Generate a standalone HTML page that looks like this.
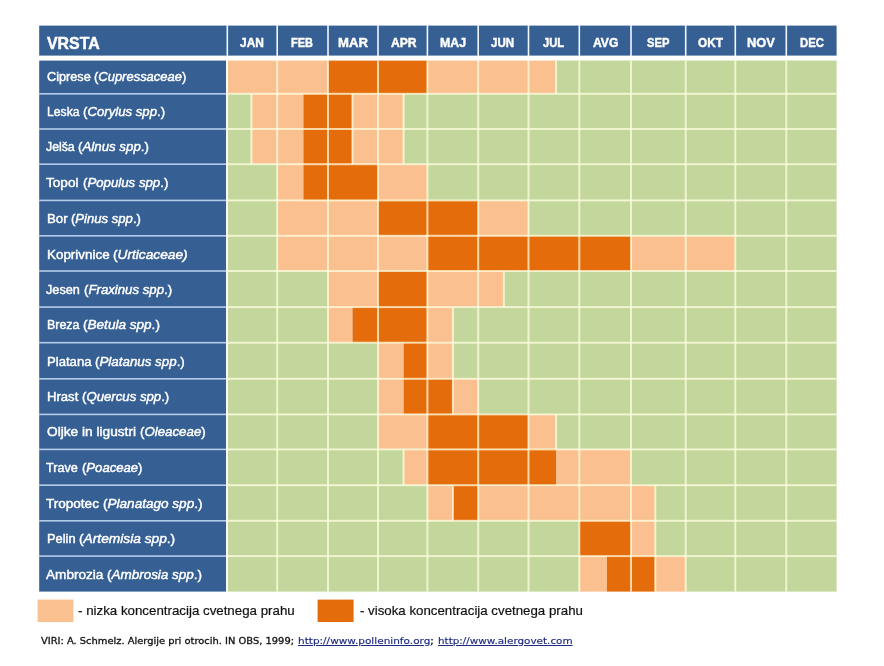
<!DOCTYPE html>
<html lang="sl"><head><meta charset="utf-8"><title>Koledar cvetenja</title>
<style>
html,body{margin:0;padding:0;background:#fff;}
body{width:884px;height:666px;position:relative;overflow:hidden;font-family:"Liberation Sans",sans-serif;}
svg{position:absolute;left:0;top:0;filter:blur(0.4px);}
.t{position:absolute;white-space:nowrap;line-height:1;transform-origin:0 0;}
.w{color:#fff;-webkit-text-stroke:0.45px #fff;}
.b{font-weight:bold;}
.k{color:#111;-webkit-text-stroke:0.2px #111;}
.s{-webkit-text-stroke:0.3px #111;font-family:"DejaVu Sans","Liberation Sans",sans-serif;}
.s u{color:#1c2a80;-webkit-text-stroke:0.15px #1c2a80;}
i{font-style:italic;}
</style></head><body>
<svg width="884" height="666" viewBox="0 0 884 666">
<rect x="39.20" y="25.60" width="797.40" height="30.00" fill="#365f94"/>
<rect x="226.50" y="25.10" width="1.60" height="31.00" fill="#f2f7ff"/>
<rect x="276.40" y="25.10" width="1.60" height="31.00" fill="#f2f7ff"/>
<rect x="327.20" y="25.10" width="1.60" height="31.00" fill="#f2f7ff"/>
<rect x="377.20" y="25.10" width="1.60" height="31.00" fill="#f2f7ff"/>
<rect x="426.60" y="25.10" width="1.60" height="31.00" fill="#f2f7ff"/>
<rect x="477.40" y="25.10" width="1.60" height="31.00" fill="#f2f7ff"/>
<rect x="527.70" y="25.10" width="1.60" height="31.00" fill="#f2f7ff"/>
<rect x="578.50" y="25.10" width="1.60" height="31.00" fill="#f2f7ff"/>
<rect x="630.20" y="25.10" width="1.60" height="31.00" fill="#f2f7ff"/>
<rect x="684.90" y="25.10" width="1.60" height="31.00" fill="#f2f7ff"/>
<rect x="734.50" y="25.10" width="1.60" height="31.00" fill="#f2f7ff"/>
<rect x="785.50" y="25.10" width="1.60" height="31.00" fill="#f2f7ff"/>
<rect x="39.20" y="60.60" width="187.00" height="531.00" fill="#365f94"/>
<rect x="227.90" y="60.60" width="100.10" height="33.20" fill="#fac08f"/>
<rect x="328.00" y="60.60" width="99.40" height="33.20" fill="#e46c0a"/>
<rect x="427.40" y="60.60" width="128.60" height="33.20" fill="#fac08f"/>
<rect x="556.00" y="60.60" width="280.60" height="33.20" fill="#c3d69b"/>
<rect x="227.90" y="93.80" width="23.50" height="35.20" fill="#c3d69b"/>
<rect x="251.40" y="93.80" width="52.00" height="35.20" fill="#fac08f"/>
<rect x="303.40" y="93.80" width="49.10" height="35.20" fill="#e46c0a"/>
<rect x="352.50" y="93.80" width="51.10" height="35.20" fill="#fac08f"/>
<rect x="403.60" y="93.80" width="433.00" height="35.20" fill="#c3d69b"/>
<rect x="227.90" y="129.00" width="23.50" height="35.20" fill="#c3d69b"/>
<rect x="251.40" y="129.00" width="52.00" height="35.20" fill="#fac08f"/>
<rect x="303.40" y="129.00" width="49.10" height="35.20" fill="#e46c0a"/>
<rect x="352.50" y="129.00" width="51.10" height="35.20" fill="#fac08f"/>
<rect x="403.60" y="129.00" width="433.00" height="35.20" fill="#c3d69b"/>
<rect x="227.90" y="164.20" width="49.30" height="36.20" fill="#c3d69b"/>
<rect x="277.20" y="164.20" width="26.20" height="36.20" fill="#fac08f"/>
<rect x="303.40" y="164.20" width="74.60" height="36.20" fill="#e46c0a"/>
<rect x="378.00" y="164.20" width="49.40" height="36.20" fill="#fac08f"/>
<rect x="427.40" y="164.20" width="409.20" height="36.20" fill="#c3d69b"/>
<rect x="227.90" y="200.40" width="49.30" height="35.40" fill="#c3d69b"/>
<rect x="277.20" y="200.40" width="100.80" height="35.40" fill="#fac08f"/>
<rect x="378.00" y="200.40" width="100.20" height="35.40" fill="#e46c0a"/>
<rect x="478.20" y="200.40" width="50.30" height="35.40" fill="#fac08f"/>
<rect x="528.50" y="200.40" width="308.10" height="35.40" fill="#c3d69b"/>
<rect x="227.90" y="235.80" width="49.30" height="35.20" fill="#c3d69b"/>
<rect x="277.20" y="235.80" width="150.20" height="35.20" fill="#fac08f"/>
<rect x="427.40" y="235.80" width="203.60" height="35.20" fill="#e46c0a"/>
<rect x="631.00" y="235.80" width="104.30" height="35.20" fill="#fac08f"/>
<rect x="735.30" y="235.80" width="101.30" height="35.20" fill="#c3d69b"/>
<rect x="227.90" y="271.00" width="100.10" height="36.10" fill="#c3d69b"/>
<rect x="328.00" y="271.00" width="50.00" height="36.10" fill="#fac08f"/>
<rect x="378.00" y="271.00" width="49.40" height="36.10" fill="#e46c0a"/>
<rect x="427.40" y="271.00" width="76.50" height="36.10" fill="#fac08f"/>
<rect x="503.90" y="271.00" width="332.70" height="36.10" fill="#c3d69b"/>
<rect x="227.90" y="307.10" width="100.10" height="35.60" fill="#c3d69b"/>
<rect x="328.00" y="307.10" width="24.50" height="35.60" fill="#fac08f"/>
<rect x="352.50" y="307.10" width="74.90" height="35.60" fill="#e46c0a"/>
<rect x="427.40" y="307.10" width="25.50" height="35.60" fill="#fac08f"/>
<rect x="452.90" y="307.10" width="383.70" height="35.60" fill="#c3d69b"/>
<rect x="227.90" y="342.70" width="150.10" height="36.10" fill="#c3d69b"/>
<rect x="378.00" y="342.70" width="25.60" height="36.10" fill="#fac08f"/>
<rect x="403.60" y="342.70" width="23.80" height="36.10" fill="#e46c0a"/>
<rect x="427.40" y="342.70" width="25.50" height="36.10" fill="#fac08f"/>
<rect x="452.90" y="342.70" width="383.70" height="36.10" fill="#c3d69b"/>
<rect x="227.90" y="378.80" width="150.10" height="35.60" fill="#c3d69b"/>
<rect x="378.00" y="378.80" width="25.60" height="35.60" fill="#fac08f"/>
<rect x="403.60" y="378.80" width="49.30" height="35.60" fill="#e46c0a"/>
<rect x="452.90" y="378.80" width="25.30" height="35.60" fill="#fac08f"/>
<rect x="478.20" y="378.80" width="358.40" height="35.60" fill="#c3d69b"/>
<rect x="227.90" y="414.40" width="150.10" height="35.00" fill="#c3d69b"/>
<rect x="378.00" y="414.40" width="49.40" height="35.00" fill="#fac08f"/>
<rect x="427.40" y="414.40" width="101.10" height="35.00" fill="#e46c0a"/>
<rect x="528.50" y="414.40" width="27.50" height="35.00" fill="#fac08f"/>
<rect x="556.00" y="414.40" width="280.60" height="35.00" fill="#c3d69b"/>
<rect x="227.90" y="449.40" width="175.70" height="35.80" fill="#c3d69b"/>
<rect x="403.60" y="449.40" width="23.80" height="35.80" fill="#fac08f"/>
<rect x="427.40" y="449.40" width="128.60" height="35.80" fill="#e46c0a"/>
<rect x="556.00" y="449.40" width="75.00" height="35.80" fill="#fac08f"/>
<rect x="631.00" y="449.40" width="205.60" height="35.80" fill="#c3d69b"/>
<rect x="227.90" y="485.20" width="199.50" height="35.60" fill="#c3d69b"/>
<rect x="427.40" y="485.20" width="25.50" height="35.60" fill="#fac08f"/>
<rect x="452.90" y="485.20" width="25.30" height="35.60" fill="#e46c0a"/>
<rect x="478.20" y="485.20" width="177.10" height="35.60" fill="#fac08f"/>
<rect x="655.30" y="485.20" width="181.30" height="35.60" fill="#c3d69b"/>
<rect x="227.90" y="520.80" width="351.40" height="35.30" fill="#c3d69b"/>
<rect x="579.30" y="520.80" width="51.70" height="35.30" fill="#e46c0a"/>
<rect x="631.00" y="520.80" width="24.30" height="35.30" fill="#fac08f"/>
<rect x="655.30" y="520.80" width="181.30" height="35.30" fill="#c3d69b"/>
<rect x="227.90" y="556.10" width="351.40" height="35.50" fill="#c3d69b"/>
<rect x="579.30" y="556.10" width="27.70" height="35.50" fill="#fac08f"/>
<rect x="607.00" y="556.10" width="48.30" height="35.50" fill="#e46c0a"/>
<rect x="655.30" y="556.10" width="30.40" height="35.50" fill="#fac08f"/>
<rect x="685.70" y="556.10" width="150.90" height="35.50" fill="#c3d69b"/>
<rect x="276.20" y="60.60" width="2.00" height="531.00" fill="rgba(255,255,226,0.72)"/>
<rect x="327.00" y="60.60" width="2.00" height="531.00" fill="rgba(255,255,226,0.72)"/>
<rect x="377.00" y="60.60" width="2.00" height="531.00" fill="rgba(255,255,226,0.72)"/>
<rect x="426.40" y="60.60" width="2.00" height="531.00" fill="rgba(255,255,226,0.72)"/>
<rect x="477.20" y="60.60" width="2.00" height="531.00" fill="rgba(255,255,226,0.72)"/>
<rect x="527.50" y="60.60" width="2.00" height="531.00" fill="rgba(255,255,226,0.72)"/>
<rect x="578.30" y="60.60" width="2.00" height="531.00" fill="rgba(255,255,226,0.72)"/>
<rect x="630.00" y="60.60" width="2.00" height="531.00" fill="rgba(255,255,226,0.72)"/>
<rect x="684.70" y="60.60" width="2.00" height="531.00" fill="rgba(255,255,226,0.72)"/>
<rect x="734.30" y="60.60" width="2.00" height="531.00" fill="rgba(255,255,226,0.72)"/>
<rect x="785.30" y="60.60" width="2.00" height="531.00" fill="rgba(255,255,226,0.72)"/>
<rect x="555.00" y="60.60" width="2.00" height="33.20" fill="rgba(255,255,226,0.72)"/>
<rect x="250.40" y="93.80" width="2.00" height="35.20" fill="rgba(255,255,226,0.72)"/>
<rect x="351.50" y="93.80" width="2.00" height="35.20" fill="rgba(255,255,226,0.72)"/>
<rect x="402.60" y="93.80" width="2.00" height="35.20" fill="rgba(255,255,226,0.72)"/>
<rect x="250.40" y="129.00" width="2.00" height="35.20" fill="rgba(255,255,226,0.72)"/>
<rect x="351.50" y="129.00" width="2.00" height="35.20" fill="rgba(255,255,226,0.72)"/>
<rect x="402.60" y="129.00" width="2.00" height="35.20" fill="rgba(255,255,226,0.72)"/>
<rect x="502.90" y="271.00" width="2.00" height="36.10" fill="rgba(255,255,226,0.72)"/>
<rect x="451.90" y="307.10" width="2.00" height="35.60" fill="rgba(255,255,226,0.72)"/>
<rect x="451.90" y="342.70" width="2.00" height="36.10" fill="rgba(255,255,226,0.72)"/>
<rect x="451.90" y="378.80" width="2.00" height="35.60" fill="rgba(255,255,226,0.72)"/>
<rect x="555.00" y="414.40" width="2.00" height="35.00" fill="rgba(255,255,226,0.72)"/>
<rect x="402.60" y="449.40" width="2.00" height="35.80" fill="rgba(255,255,226,0.72)"/>
<rect x="451.90" y="485.20" width="2.00" height="35.60" fill="rgba(255,255,226,0.72)"/>
<rect x="654.30" y="485.20" width="2.00" height="35.60" fill="rgba(255,255,226,0.72)"/>
<rect x="654.30" y="520.80" width="2.00" height="35.30" fill="rgba(255,255,226,0.72)"/>
<rect x="654.30" y="556.10" width="2.00" height="35.50" fill="rgba(255,255,226,0.72)"/>
<rect x="39.20" y="93.00" width="187.00" height="1.60" fill="rgba(212,234,255,0.8)"/>
<rect x="227.90" y="92.80" width="608.70" height="2.00" fill="rgba(255,255,226,0.72)"/>
<rect x="39.20" y="128.20" width="187.00" height="1.60" fill="rgba(212,234,255,0.8)"/>
<rect x="227.90" y="128.00" width="608.70" height="2.00" fill="rgba(255,255,226,0.72)"/>
<rect x="39.20" y="163.40" width="187.00" height="1.60" fill="rgba(212,234,255,0.8)"/>
<rect x="227.90" y="163.20" width="608.70" height="2.00" fill="rgba(255,255,226,0.72)"/>
<rect x="39.20" y="199.60" width="187.00" height="1.60" fill="rgba(212,234,255,0.8)"/>
<rect x="227.90" y="199.40" width="608.70" height="2.00" fill="rgba(255,255,226,0.72)"/>
<rect x="39.20" y="235.00" width="187.00" height="1.60" fill="rgba(212,234,255,0.8)"/>
<rect x="227.90" y="234.80" width="608.70" height="2.00" fill="rgba(255,255,226,0.72)"/>
<rect x="39.20" y="270.20" width="187.00" height="1.60" fill="rgba(212,234,255,0.8)"/>
<rect x="227.90" y="270.00" width="608.70" height="2.00" fill="rgba(255,255,226,0.72)"/>
<rect x="39.20" y="306.30" width="187.00" height="1.60" fill="rgba(212,234,255,0.8)"/>
<rect x="227.90" y="306.10" width="608.70" height="2.00" fill="rgba(255,255,226,0.72)"/>
<rect x="39.20" y="341.90" width="187.00" height="1.60" fill="rgba(212,234,255,0.8)"/>
<rect x="227.90" y="341.70" width="608.70" height="2.00" fill="rgba(255,255,226,0.72)"/>
<rect x="39.20" y="378.00" width="187.00" height="1.60" fill="rgba(212,234,255,0.8)"/>
<rect x="227.90" y="377.80" width="608.70" height="2.00" fill="rgba(255,255,226,0.72)"/>
<rect x="39.20" y="413.60" width="187.00" height="1.60" fill="rgba(212,234,255,0.8)"/>
<rect x="227.90" y="413.40" width="608.70" height="2.00" fill="rgba(255,255,226,0.72)"/>
<rect x="39.20" y="448.60" width="187.00" height="1.60" fill="rgba(212,234,255,0.8)"/>
<rect x="227.90" y="448.40" width="608.70" height="2.00" fill="rgba(255,255,226,0.72)"/>
<rect x="39.20" y="484.40" width="187.00" height="1.60" fill="rgba(212,234,255,0.8)"/>
<rect x="227.90" y="484.20" width="608.70" height="2.00" fill="rgba(255,255,226,0.72)"/>
<rect x="39.20" y="520.00" width="187.00" height="1.60" fill="rgba(212,234,255,0.8)"/>
<rect x="227.90" y="519.80" width="608.70" height="2.00" fill="rgba(255,255,226,0.72)"/>
<rect x="39.20" y="555.30" width="187.00" height="1.60" fill="rgba(212,234,255,0.8)"/>
<rect x="227.90" y="555.10" width="608.70" height="2.00" fill="rgba(255,255,226,0.72)"/>
<rect x="226.20" y="60.60" width="1.70" height="531.00" fill="#fff"/>
<rect x="37.60" y="599.60" width="35.80" height="22.40" fill="#fac08f"/>
<rect x="317.60" y="599.60" width="36.00" height="22.40" fill="#e46c0a"/>
</svg>
<div class="t b w" id="t-vrsta" style="left:46.9px;top:34.59px;font-size:16.2px;transform:scaleX(0.9838)">VRSTA</div>
<div class="t b w" id="t-m0" style="left:240.4px;top:35.64px;font-size:13.3px;transform:scaleX(0.8982)">JAN</div>
<div class="t b w" id="t-m1" style="left:291.4px;top:35.64px;font-size:13.3px;transform:scaleX(0.8230)">FEB</div>
<div class="t b w" id="t-m2" style="left:337.7px;top:35.64px;font-size:13.3px;transform:scaleX(0.9869)">MAR</div>
<div class="t b w" id="t-m3" style="left:391.0px;top:35.64px;font-size:13.3px;transform:scaleX(0.9117)">APR</div>
<div class="t b w" id="t-m4" style="left:440.4px;top:35.64px;font-size:13.3px;transform:scaleX(0.9295)">MAJ</div>
<div class="t b w" id="t-m5" style="left:491.4px;top:35.64px;font-size:13.3px;transform:scaleX(0.8719)">JUN</div>
<div class="t b w" id="t-m6" style="left:543.2px;top:35.64px;font-size:13.3px;transform:scaleX(0.8438)">JUL</div>
<div class="t b w" id="t-m7" style="left:592.5px;top:35.64px;font-size:13.3px;transform:scaleX(0.9127)">AVG</div>
<div class="t b w" id="t-m8" style="left:646.9px;top:35.64px;font-size:13.3px;transform:scaleX(0.8418)">SEP</div>
<div class="t b w" id="t-m9" style="left:697.7px;top:35.64px;font-size:13.3px;transform:scaleX(0.8868)">OKT</div>
<div class="t b w" id="t-m10" style="left:746.5px;top:35.64px;font-size:13.3px;transform:scaleX(0.9678)">NOV</div>
<div class="t b w" id="t-m11" style="left:799.7px;top:35.64px;font-size:13.3px;transform:scaleX(0.8512)">DEC</div>
<div class="t w" id="t-r0a" style="left:46.9px;top:70.24px;font-size:13.3px;transform:scaleX(0.9557)">Ciprese</div>
<div class="t w" id="t-r0b" style="left:94.3px;top:70.24px;font-size:13.3px;transform:scaleX(0.9754)">(<i>Cupressaceae</i>)</div>
<div class="t w" id="t-r1a" style="left:46.9px;top:104.94px;font-size:13.3px;transform:scaleX(0.9159)">Leska</div>
<div class="t w" id="t-r1b" style="left:83.0px;top:104.94px;font-size:13.3px;transform:scaleX(0.9918)">(<i>Corylus spp</i>.)</div>
<div class="t w" id="t-r2a" style="left:46.1px;top:140.44px;font-size:13.3px;transform:scaleX(0.9244)">Jelša</div>
<div class="t w" id="t-r2b" style="left:78.4px;top:140.44px;font-size:13.3px;transform:scaleX(0.9990)">(<i>Alnus spp</i>.)</div>
<div class="t w" id="t-r3a" style="left:46.4px;top:176.34px;font-size:13.3px;transform:scaleX(1.0221)">Topol</div>
<div class="t w" id="t-r3b" style="left:82.5px;top:176.34px;font-size:13.3px;transform:scaleX(0.9948)">(<i>Populus spp</i>.)</div>
<div class="t w" id="t-r4a" style="left:46.9px;top:211.64px;font-size:13.3px;transform:scaleX(0.9998)">Bor</div>
<div class="t w" id="t-r4b" style="left:71.2px;top:211.64px;font-size:13.3px;transform:scaleX(0.9849)">(<i>Pinus spp</i>.)</div>
<div class="t w" id="t-r5a" style="left:46.9px;top:247.84px;font-size:13.3px;transform:scaleX(1.0082)">Koprivnice</div>
<div class="t w" id="t-r5b" style="left:113.1px;top:247.84px;font-size:13.3px;transform:scaleX(1.0301)">(<i>Urticaceae)</i></div>
<div class="t w" id="t-r6a" style="left:46.1px;top:282.64px;font-size:13.3px;transform:scaleX(0.9554)">Jesen</div>
<div class="t w" id="t-r6b" style="left:83.6px;top:282.64px;font-size:13.3px;transform:scaleX(0.9934)">(<i>Fraxinus spp</i>.)</div>
<div class="t w" id="t-r7a" style="left:46.9px;top:318.14px;font-size:13.3px;transform:scaleX(0.9353)">Breza</div>
<div class="t w" id="t-r7b" style="left:83.0px;top:318.14px;font-size:13.3px;transform:scaleX(1.0198)">(<i>Betula spp</i>.)</div>
<div class="t w" id="t-r8a" style="left:46.9px;top:354.84px;font-size:13.3px;transform:scaleX(0.9865)">Platana</div>
<div class="t w" id="t-r8b" style="left:95.0px;top:354.84px;font-size:13.3px;transform:scaleX(1.0039)">(<i>Platanus spp</i>.)</div>
<div class="t w" id="t-r9a" style="left:46.9px;top:389.84px;font-size:13.3px;transform:scaleX(0.9849)">Hrast</div>
<div class="t w" id="t-r9b" style="left:81.8px;top:389.84px;font-size:13.3px;transform:scaleX(0.9914)">(<i>Quercus spp</i>.)</div>
<div class="t w" id="t-r10a" style="left:46.9px;top:425.14px;font-size:13.3px;transform:scaleX(1.0293)">Oljke in ligustri</div>
<div class="t w" id="t-r10b" style="left:139.5px;top:425.14px;font-size:13.3px;transform:scaleX(0.9985)">(<i>Oleaceae</i>)</div>
<div class="t w" id="t-r11a" style="left:46.4px;top:461.34px;font-size:13.3px;transform:scaleX(0.9493)">Trave</div>
<div class="t w" id="t-r11b" style="left:81.8px;top:461.34px;font-size:13.3px;transform:scaleX(0.9857)">(<i>Poaceae</i>)</div>
<div class="t w" id="t-r12a" style="left:46.4px;top:496.64px;font-size:13.3px;transform:scaleX(1.0176)">Tropotec</div>
<div class="t w" id="t-r12b" style="left:102.9px;top:496.64px;font-size:13.3px;transform:scaleX(1.0195)">(<i>Planatago spp</i>.)</div>
<div class="t w" id="t-r13a" style="left:46.9px;top:532.14px;font-size:13.3px;transform:scaleX(0.9669)">Pelin</div>
<div class="t w" id="t-r13b" style="left:79.1px;top:532.14px;font-size:13.3px;transform:scaleX(1.0330)">(<i>Artemisia spp</i>.)</div>
<div class="t w" id="t-r14a" style="left:46.4px;top:567.64px;font-size:13.3px;transform:scaleX(1.0219)">Ambrozia</div>
<div class="t w" id="t-r14b" style="left:107.4px;top:567.64px;font-size:13.3px;transform:scaleX(1.0122)">(<i>Ambrosia spp</i>.)</div>
<div class="t k" id="t-l1" style="left:77.6px;top:603.94px;font-size:13.3px;transform:scaleX(1.0006)">- nizka koncentracija cvetnega prahu</div>
<div class="t k" id="t-l2" style="left:360.0px;top:603.94px;font-size:13.3px;transform:scaleX(0.9986)">- visoka koncentracija cvetnega prahu</div>
<div class="t k s" id="t-s1" style="left:41.2px;top:635.86px;font-size:9.5px;transform:scaleX(1.0412)">VIRI: A. Schmelz. Alergije pri otrocih. IN OBS, 1999;</div>
<div class="t k s" id="t-s2" style="left:297.7px;top:635.86px;font-size:9.5px;transform:scaleX(1.1047)"><u>http://www.polleninfo.org</u>;</div>
<div class="t k s" id="t-s3" style="left:437.9px;top:635.86px;font-size:9.5px;transform:scaleX(1.0947)"><u>http://www.alergovet.com</u></div>
</body></html>
